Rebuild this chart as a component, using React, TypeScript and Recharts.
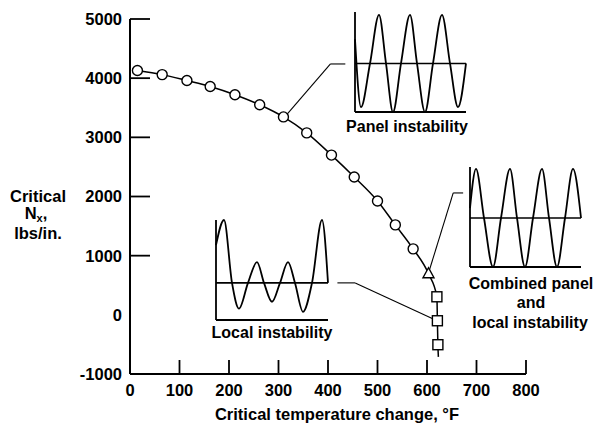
import React from 'react';
import { LineChart, Line, XAxis, YAxis, ReferenceLine } from 'recharts';

// main curve: critical temperature change (°F) vs critical Nx (lbs/in.)
const tempChange = [15, 65, 115, 162, 212, 262, 310, 357, 407, 453, 500, 536, 572, 603, 620, 621, 622, 623];
const criticalNx = [4130, 4060, 3960, 3860, 3720, 3550, 3345, 3075, 2700, 2330, 1925, 1520, 1115, 695, 305, -100, -505, -710];
const markerShape = [
  'circle', 'circle', 'circle', 'circle', 'circle', 'circle', 'circle',
  'circle', 'circle', 'circle', 'circle', 'circle', 'circle',
  'triangle', 'square', 'square', 'square', 'none',
];

const xTicks = [0, 100, 200, 300, 400, 500, 600, 700, 800];
const yTicks = [-1000, 0, 1000, 2000, 3000, 4000, 5000];
const yTickMarks = [1000, 2000, 3000, 4000, 5000];

// leader lines from the curve to the mode sketches
const panelLeader = [[314, 3360], [405, 4240], [435, 4240]];
const combinedLeader = [[605, 760], [653, 2060], [673, 2060]];
const localLeader = [[615, -80], [455, 540], [419, 540]];

// mode shape sketches
const panelWaveX = [0, 6, 15, 24, 31, 38, 46, 55, 62, 70, 78, 87, 95, 103, 111];
const panelWaveY = [0.5, -0.9, 0, 1, 0, -1, 0, 1, 0, -1, 0, 1, 0, -0.9, 0];
const combinedWaveX = [0, 6, 14, 23, 31, 40, 47, 55, 63, 72, 79, 87, 95, 103, 111];
const combinedWaveY = [0.2, 1, 0, -1, 0, 1, 0, -1, 0, 1, 0, -1, 0, 1, 0];
const localWaveX = [0, 8, 16, 23, 32, 41, 48, 56, 64, 72, 79, 87, 96, 106, 112];
const localWaveY = [0.6, 1, 0, -0.41, 0, 0.33, 0, -0.3, 0, 0.33, 0, -0.46, 0, 1, 0];

const FONT = '"Liberation Sans", Arial, sans-serif';

const data = tempChange.map((t, i) => ({ t, nx: criticalNx[i] }));

const renderDot = (props: any) => {
  const { cx, cy, index } = props;
  const shape = markerShape[index];
  if (shape === 'circle') {
    return <circle key={index} cx={cx} cy={cy} r={5} fill="#fff" stroke="#000" strokeWidth={1.4} />;
  }
  if (shape === 'triangle') {
    return (
      <polygon
        key={index}
        points={`${cx},${cy - 6} ${cx - 5.5},${cy + 4} ${cx + 5.5},${cy + 4}`}
        fill="#fff"
        stroke="#000"
        strokeWidth={1.4}
      />
    );
  }
  if (shape === 'square') {
    return <rect key={index} x={cx - 5} y={cy - 5} width={10} height={10} fill="#fff" stroke="#000" strokeWidth={1.4} />;
  }
  return <g key={index} />;
};

const YTick = (props: any) => {
  const { x, y, payload } = props;
  const axisX = x + 6;
  return (
    <g>
      {yTickMarks.includes(payload.value) && (
        <line x1={axisX} x2={axisX + 20} y1={y} y2={y} stroke="#000" strokeWidth={1.8} />
      )}
      <text x={x - 2} y={y} dy="0.36em" textAnchor="end" fontFamily={FONT} fontWeight="bold" fontSize={16.5} fill="#000">
        {payload.value}
      </text>
    </g>
  );
};

const XTick = (props: any) => {
  const { x, y, payload } = props;
  const axisY = y - 10;
  return (
    <g>
      {payload.value > 0 && (
        <line x1={x} x2={x} y1={axisY} y2={axisY - 14} stroke="#000" strokeWidth={1.8} />
      )}
      <text x={x} y={y} dy="0.71em" textAnchor="middle" fontFamily={FONT} fontWeight="bold" fontSize={16.5} fill="#000">
        {payload.value}
      </text>
    </g>
  );
};

const leaderLines = (pts: number[][], key: string) =>
  pts.slice(1).map((p, i) => (
    <ReferenceLine
      key={`${key}-${i}`}
      segment={[{ x: pts[i][0], y: pts[i][1] }, { x: p[0], y: p[1] }]}
      stroke="#000"
      strokeWidth={1.1}
    />
  ));

type InsetProps = {
  left: number;
  top: number;
  width: number;
  height: number;
  xs: number[];
  ys: number[];
  yDomain: [number, number];
};

function Inset({ left, top, width, height, xs, ys, yDomain }: InsetProps) {
  const wave = xs.map((x, i) => ({ x, y: ys[i] }));
  const pad = 4;
  return (
    <div style={{ position: 'absolute', left: left - pad, top: top - pad }}>
      <LineChart
        width={width + 2 * pad}
        height={height + 2 * pad}
        data={wave}
        margin={{ top: pad, right: pad, bottom: pad, left: pad }}
      >
        <XAxis type="number" dataKey="x" domain={[0, width]} hide />
        <YAxis type="number" domain={yDomain} hide />
        <ReferenceLine x={0} stroke="#000" strokeWidth={1.8} />
        <ReferenceLine y={yDomain[0]} stroke="#000" strokeWidth={1.8} />
        <ReferenceLine y={0} stroke="#000" strokeWidth={1.6} />
        <Line type="monotone" dataKey="y" stroke="#000" strokeWidth={1.8} dot={false} isAnimationActive={false} />
      </LineChart>
    </div>
  );
}

const textStyle: React.CSSProperties = {
  position: 'absolute',
  fontFamily: FONT,
  fontWeight: 'bold',
  fontSize: 16,
  lineHeight: 1,
  whiteSpace: 'nowrap',
  transform: 'translate(-50%, -50%)',
  color: '#000',
};

export default function App() {
  return (
    <div style={{ position: 'absolute', left: 0, top: 0, width: 595, height: 433, background: '#fff' }}>
      <LineChart width={595} height={433} data={data} margin={{ top: 19, right: 69, bottom: 29, left: 70 }}>
        <XAxis
          type="number"
          dataKey="t"
          domain={[0, 800]}
          ticks={xTicks}
          interval={0}
          tickSize={0}
          tickMargin={10}
          height={30}
          tick={<XTick />}
          axisLine={{ stroke: '#000', strokeWidth: 2 }}
          tickLine={false}
        />
        <YAxis
          type="number"
          domain={[-1000, 5000]}
          ticks={yTicks}
          interval={0}
          tickSize={0}
          tickMargin={6}
          width={60}
          tick={<YTick />}
          axisLine={{ stroke: '#000', strokeWidth: 2 }}
          tickLine={false}
        />
        {leaderLines(panelLeader, 'panel')}
        {leaderLines(combinedLeader, 'combined')}
        {leaderLines(localLeader, 'local')}
        <Line
          type="monotone"
          dataKey="nx"
          stroke="#000"
          strokeWidth={1.5}
          dot={renderDot}
          isAnimationActive={false}
        />
      </LineChart>

      <Inset left={355} top={12} width={111} height={100} xs={panelWaveX} ys={panelWaveY} yDomain={[-1, 1.06]} />
      <Inset left={470} top={167} width={111} height={100} xs={combinedWaveX} ys={combinedWaveY} yDomain={[-1, 1.04]} />
      <Inset left={216} top={220} width={112} height={100} xs={localWaveX} ys={localWaveY} yDomain={[-0.59, 1]} />

      <div style={{ ...textStyle, left: 407, top: 127 }}>Panel instability</div>
      <div style={{ ...textStyle, left: 531, top: 284 }}>Combined panel</div>
      <div style={{ ...textStyle, left: 531, top: 303 }}>and</div>
      <div style={{ ...textStyle, left: 530, top: 323 }}>local instability</div>
      <div style={{ ...textStyle, left: 272, top: 333 }}>Local instability</div>

      <div style={{ ...textStyle, fontSize: 16.5, left: 38, top: 196 }}>Critical</div>
      <div style={{ ...textStyle, fontSize: 16.5, left: 36, top: 214 }}>
        N<sub style={{ fontSize: 11, verticalAlign: '-3px' }}>x</sub>,
      </div>
      <div style={{ ...textStyle, fontSize: 16.5, left: 38, top: 233 }}>lbs/in.</div>

      <div style={{ ...textStyle, fontSize: 16.5, left: 337, top: 414 }}>Critical temperature change, °F</div>
    </div>
  );
}
